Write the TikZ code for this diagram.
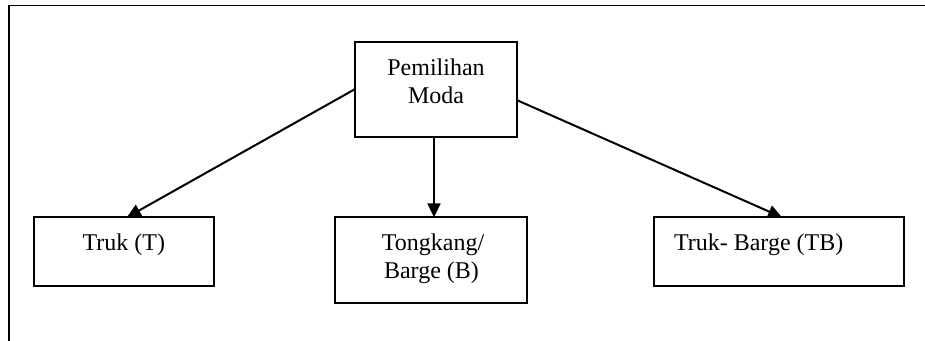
\documentclass[tikz,border=0pt]{standalone}
\usepackage{fontspec}
\setmainfont{Liberation Serif}
\usetikzlibrary{arrows.meta,calc}
\begin{document}
\begin{tikzpicture}[x=1pt,y=1pt,
  box/.style={draw, line width=2pt, inner sep=0pt, outer sep=0pt},
  txt/.style={inner sep=0pt, outer sep=0pt, font=\fontsize{24}{27.6}\selectfont},
  conn/.style={line width=2pt, -{Triangle[length=14pt,width=13pt]}}]
\useasboundingbox (0,0) rectangle (925,-340);
% outer frame (left and top edges visible)
\coordinate (fbl) at (9,-345);
\coordinate (ftl) at (9,-5.7);
\coordinate (ftr) at (930,-5.7);
\draw[line width=1.5pt] (fbl) -- (ftl) -- (ftr);
% boxes
\node[box, minimum width=162.8, minimum height=95.3] (top) at (436,-89.35) {};
\node[box, minimum width=179.4, minimum height=68.7] (truk) at (123.9,-251.65) {};
\node[box, minimum width=192, minimum height=85.4] (tk) at (431,-260) {};
\node[box, minimum width=250, minimum height=68.7] (tb) at (779,-251.65) {};
% texts
\node[txt, anchor=base] (t1) at (436,-75.7) {Pemilihan};
\node[txt, anchor=base] (t2) at (436,-103.3) {Moda};
\node[txt, anchor=base] (t3) at (123.9,-250.5) {Truk (T)};
\node[txt, anchor=base] (t4) at (433,-250.5) {Tongkang/};
\node[txt, anchor=base] (t5) at (431.5,-278.3) {Barge (B)};
\node[txt, anchor=base west] (t6) at (674,-250.5) {Truk- Barge (TB)};
% connectors
\draw[conn] (top.west) -- ([xshift=3pt]truk.north);
\draw[conn] ([xshift=-2pt]top.south) -- ([xshift=-2pt]top.south |- tk.north);
\draw[conn] ([yshift=-11pt]top.east) -- ([xshift=3pt]tb.north);
\end{tikzpicture}
\end{document}
